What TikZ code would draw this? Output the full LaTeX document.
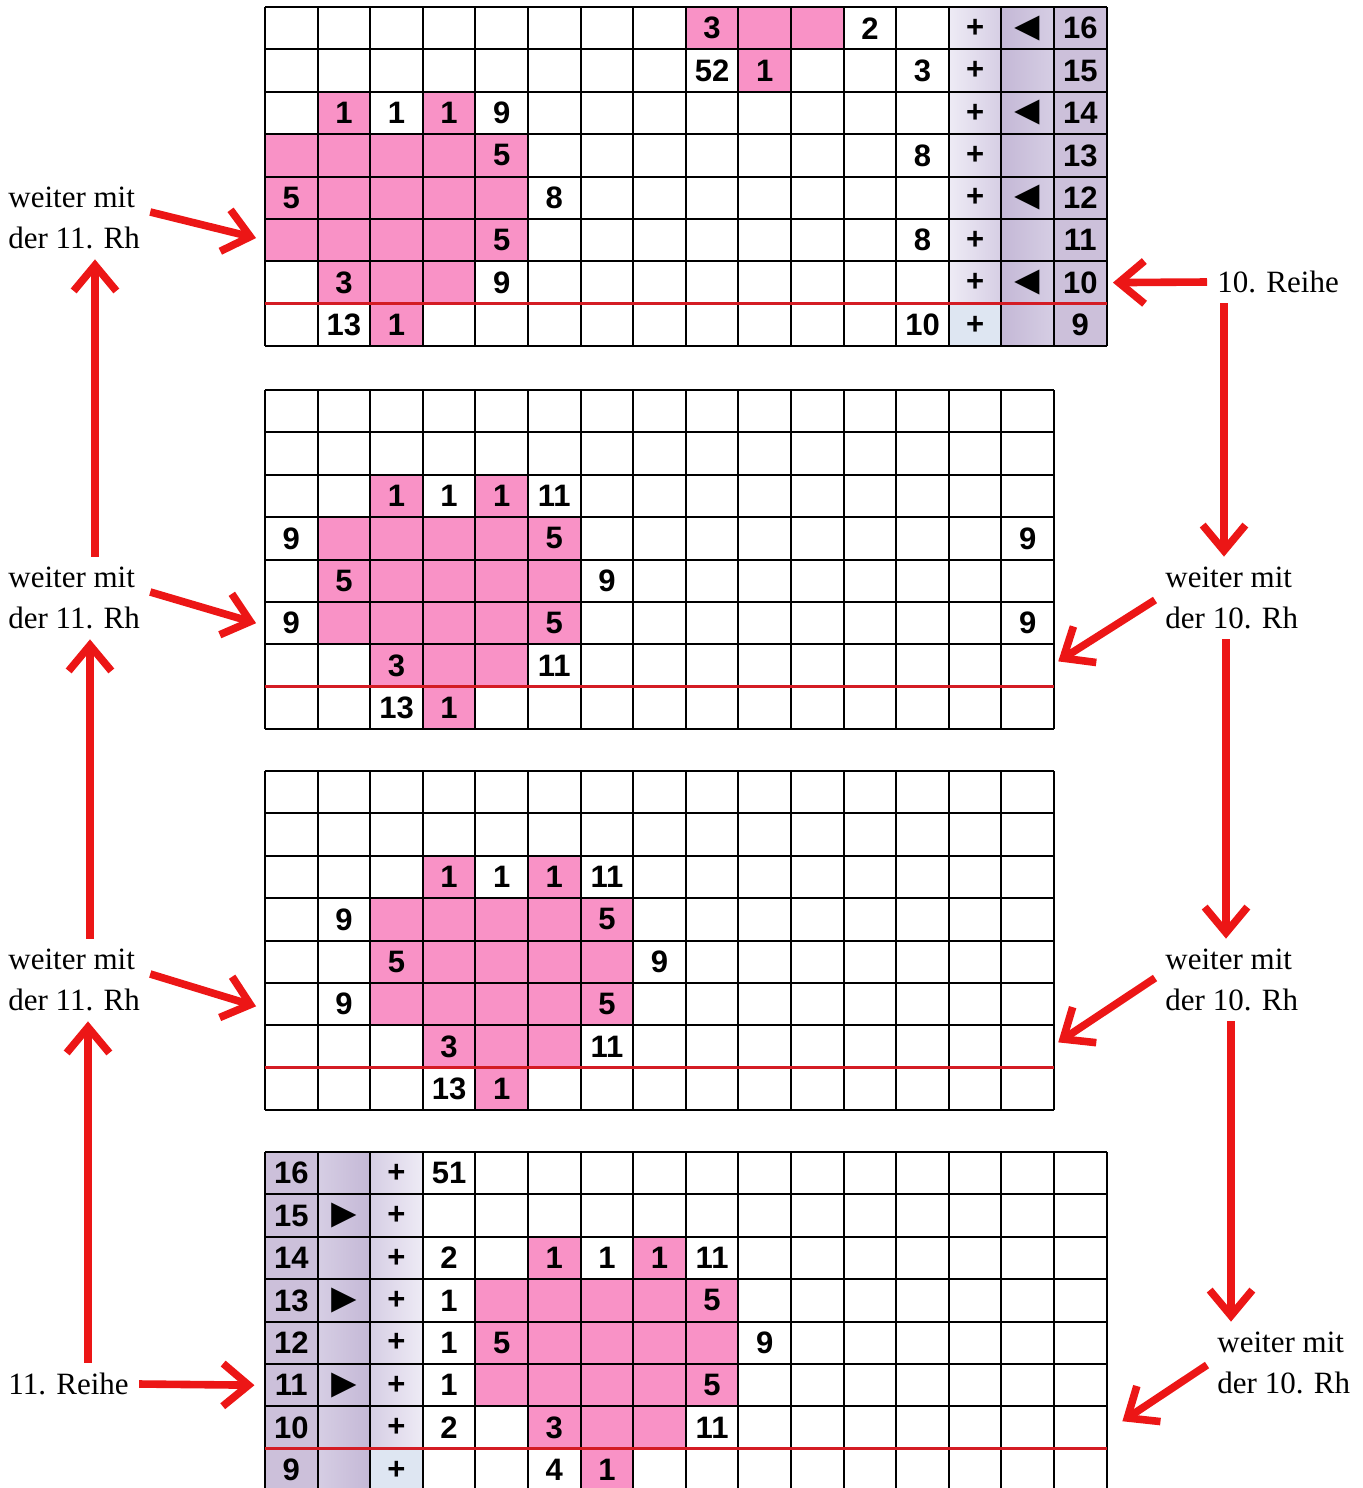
\documentclass[tikz,border=0pt]{standalone}
\usepackage{fontspec}
\setmainfont{Liberation Serif}
\newfontfamily\numfont{Liberation Sans}
\usepackage{tikz}
\usetikzlibrary{arrows.meta}

\definecolor{pinkcell}{RGB}{249,146,198}
\definecolor{lavdark}{RGB}{196,184,214}
\definecolor{lavmid}{RGB}{214,206,228}
\definecolor{lavlight}{RGB}{238,235,245}
\definecolor{lavender}{RGB}{204,192,218}
\definecolor{plusblue}{RGB}{222,230,242}
\definecolor{rowred}{RGB}{212,28,36}
\definecolor{arrowred}{RGB}{236,22,22}

\begin{document}
\begin{tikzpicture}[
  x=0.5pt, y=-0.5pt,
  cellnum/.style={font=\numfont\bfseries\fontsize{15.5}{15.5}\selectfont, inner sep=0pt},
  trig/.style={font=\numfont\fontsize{21}{21}\selectfont, inner sep=0pt},
  gridline/.style={line width=1pt, black},
  rowline/.style={line width=1.6pt, rowred},
  note/.style={font=\fontsize{15.5}{20.5}\selectfont, align=left, inner sep=5pt, anchor=west},
  redarrow/.style={-{Straight Barb[length=4.5mm, width=7.5mm]}, line width=3.8pt, arrowred}
]
\useasboundingbox (0,0) rectangle (1363,1488);

% grid 1: rows 16 to 9, worked from the right
\begin{scope}[shift={(265,7)}, x=26.3pt, y=-21.2pt]
  \foreach \c/\r in {9/1,10/1,11/1,10/2,2/3,4/3,2/7,3/7,4/7,3/8}
    \fill[pinkcell] (\c-1,\r-1) rectangle (\c,\r);
  \foreach \r in {4,5,6} \foreach \c in {1,...,5}
    \fill[pinkcell] (\c-1,\r-1) rectangle (\c,\r);
  \shade[left color=lavlight, right color=lavmid] (13,0) rectangle (14,7);
  \fill[plusblue] (13,7) rectangle (14,8);
  \shade[left color=lavdark, right color=lavmid] (14,0) rectangle (15,8);
  \fill[lavender] (15,0) rectangle (16,8);
  \foreach \c in {0,...,16} \draw[gridline] (\c,0) -- (\c,8);
  \foreach \r in {0,...,8} \draw[gridline] (0,\r) -- (16,\r);
  \draw[rowline] (0,7) -- (16,7);
  \foreach \c/\r/\t in {9/1/3,12/1/2,9/2/52,10/2/1,13/2/3,2/3/1,3/3/1,4/3/1,5/3/9,
      5/4/5,13/4/8,1/5/5,6/5/8,5/6/5,13/6/8,2/7/3,5/7/9,2/8/13,3/8/1,13/8/10}
    \node[cellnum] (a-\c-\r) at (\c-0.5,\r-0.5) {\t};
  \foreach \r in {1,...,8} \node[cellnum] (a-p\r) at (13.5,\r-0.5) {+};
  \foreach \r in {1,3,5,7} \node[trig] (a-t\r) at (14.5,\r-0.5) {◄};
  \foreach \r [evaluate=\r as \n using int(17-\r)] in {1,...,8}
    \node[cellnum] (a-n\r) at (15.5,\r-0.5) {\n};
  \coordinate (a-left) at (-0.17,5.45);
  \coordinate (a-right) at (16.12,6.5);
\end{scope}

% grid 2
\begin{scope}[shift={(265,390)}, x=26.3pt, y=-21.2pt]
  \foreach \c/\r in {3/3,5/3,3/7,4/7,5/7,4/8}
    \fill[pinkcell] (\c-1,\r-1) rectangle (\c,\r);
  \foreach \r in {4,5,6} \foreach \c in {2,...,6}
    \fill[pinkcell] (\c-1,\r-1) rectangle (\c,\r);
  \foreach \c in {0,...,15} \draw[gridline] (\c,0) -- (\c,8);
  \foreach \r in {0,...,8} \draw[gridline] (0,\r) -- (15,\r);
  \draw[rowline] (0,7) -- (15,7);
  \foreach \c/\r/\t in {3/3/1,4/3/1,5/3/1,6/3/11,1/4/9,6/4/5,15/4/9,2/5/5,7/5/9,
      1/6/9,6/6/5,15/6/9,3/7/3,6/7/11,3/8/13,4/8/1}
    \node[cellnum] (b-\c-\r) at (\c-0.5,\r-0.5) {\t};
  \coordinate (b-left) at (-0.17,5.5);
  \coordinate (b-right) at (15.08,6.4);
\end{scope}

% grid 3
\begin{scope}[shift={(265,771)}, x=26.3pt, y=-21.2pt]
  \foreach \c/\r in {4/3,6/3,4/7,5/7,6/7,5/8}
    \fill[pinkcell] (\c-1,\r-1) rectangle (\c,\r);
  \foreach \r in {4,5,6} \foreach \c in {3,...,7}
    \fill[pinkcell] (\c-1,\r-1) rectangle (\c,\r);
  \foreach \c in {0,...,15} \draw[gridline] (\c,0) -- (\c,8);
  \foreach \r in {0,...,8} \draw[gridline] (0,\r) -- (15,\r);
  \draw[rowline] (0,7) -- (15,7);
  \foreach \c/\r/\t in {4/3/1,5/3/1,6/3/1,7/3/11,2/4/9,7/4/5,3/5/5,8/5/9,
      2/6/9,7/6/5,4/7/3,7/7/11,4/8/13,5/8/1}
    \node[cellnum] (c-\c-\r) at (\c-0.5,\r-0.5) {\t};
  \coordinate (c-left) at (-0.17,5.55);
  \coordinate (c-right) at (15.08,6.4);
\end{scope}

% grid 4: rows 16 to 9, worked from the left
\begin{scope}[shift={(265,1152)}, x=26.3pt, y=-21.2pt]
  \foreach \c/\r in {6/3,8/3,6/7,7/7,8/7,7/8}
    \fill[pinkcell] (\c-1,\r-1) rectangle (\c,\r);
  \foreach \r in {4,5,6} \foreach \c in {5,...,9}
    \fill[pinkcell] (\c-1,\r-1) rectangle (\c,\r);
  \fill[lavender] (0,0) rectangle (1,8);
  \shade[left color=lavmid, right color=lavdark] (1,0) rectangle (2,8);
  \shade[left color=lavmid, right color=lavlight] (2,0) rectangle (3,7);
  \fill[plusblue] (2,7) rectangle (3,8);
  \foreach \c in {0,...,16} \draw[gridline] (\c,0) -- (\c,8);
  \foreach \r in {0,...,8} \draw[gridline] (0,\r) -- (16,\r);
  \draw[rowline] (0,7) -- (16,7);
  \foreach \c/\r/\t in {4/1/51,4/3/2,6/3/1,7/3/1,8/3/1,9/3/11,4/4/1,9/4/5,4/5/1,5/5/5,
      10/5/9,4/6/1,9/6/5,4/7/2,6/7/3,9/7/11,6/8/4,7/8/1}
    \node[cellnum] (d-\c-\r) at (\c-0.5,\r-0.5) {\t};
  \foreach \r [evaluate=\r as \n using int(17-\r)] in {1,...,8}
    \node[cellnum] (d-n\r) at (0.5,\r-0.5) {\n};
  \foreach \r in {2,4,6} \node[trig] (d-t\r) at (1.5,\r-0.5) {►};
  \foreach \r in {1,...,8} \node[cellnum] (d-p\r) at (2.5,\r-0.5) {+};
  \coordinate (d-left) at (-0.2,5.5);
  \coordinate (d-right) at (16.3,6.35);
\end{scope}

% labels
\node[note] (l1) at (-2,218) {weiter mit\\der 11. Rh};
\node[note] (l2) at (-2,598) {weiter mit\\der 11. Rh};
\node[note] (l3) at (-2,980) {weiter mit\\der 11. Rh};
\node[note] (reihe11) at (-2,1384) {11. Reihe};
\node[note] (reihe10) at (1207,282) {10. Reihe};
\node[note] (r2) at (1155,598) {weiter mit\\der 10. Rh};
\node[note] (r3) at (1155,980) {weiter mit\\der 10. Rh};
\node[note] (r4) at (1207,1363) {weiter mit\\der 10. Rh};

% left side, going up
\draw[redarrow] (reihe11.east) -- (d-left);
\draw[redarrow] (88,0 |- reihe11.north) -- (88,0 |- l3.south);
\draw[redarrow] ([yshift=3pt]l3.east) -- (c-left);
\draw[redarrow] (90,0 |- l3.north) -- (90,0 |- l2.south);
\draw[redarrow] ([yshift=3pt]l2.east) -- (b-left);
\draw[redarrow] (95,0 |- l2.north) -- (95,0 |- l1.south);
\draw[redarrow] ([yshift=3pt]l1.east) -- (a-left);

% right side, going down
\draw[redarrow] (reihe10.west) -- (a-right);
\draw[redarrow] (1224,0 |- reihe10.south) -- (1224,0 |- r2.north);
\draw[redarrow] ([yshift=-1pt]r2.west) -- (b-right);
\draw[redarrow] (1226,0 |- r2.south) -- (1226,0 |- r3.north);
\draw[redarrow] ([yshift=1pt]r3.west) -- (c-right);
\draw[redarrow] (1231,0 |- r3.south) -- (1231,0 |- r4.north);
\draw[redarrow] ([yshift=-1pt]r4.west) -- (d-right);
\end{tikzpicture}
\end{document}
